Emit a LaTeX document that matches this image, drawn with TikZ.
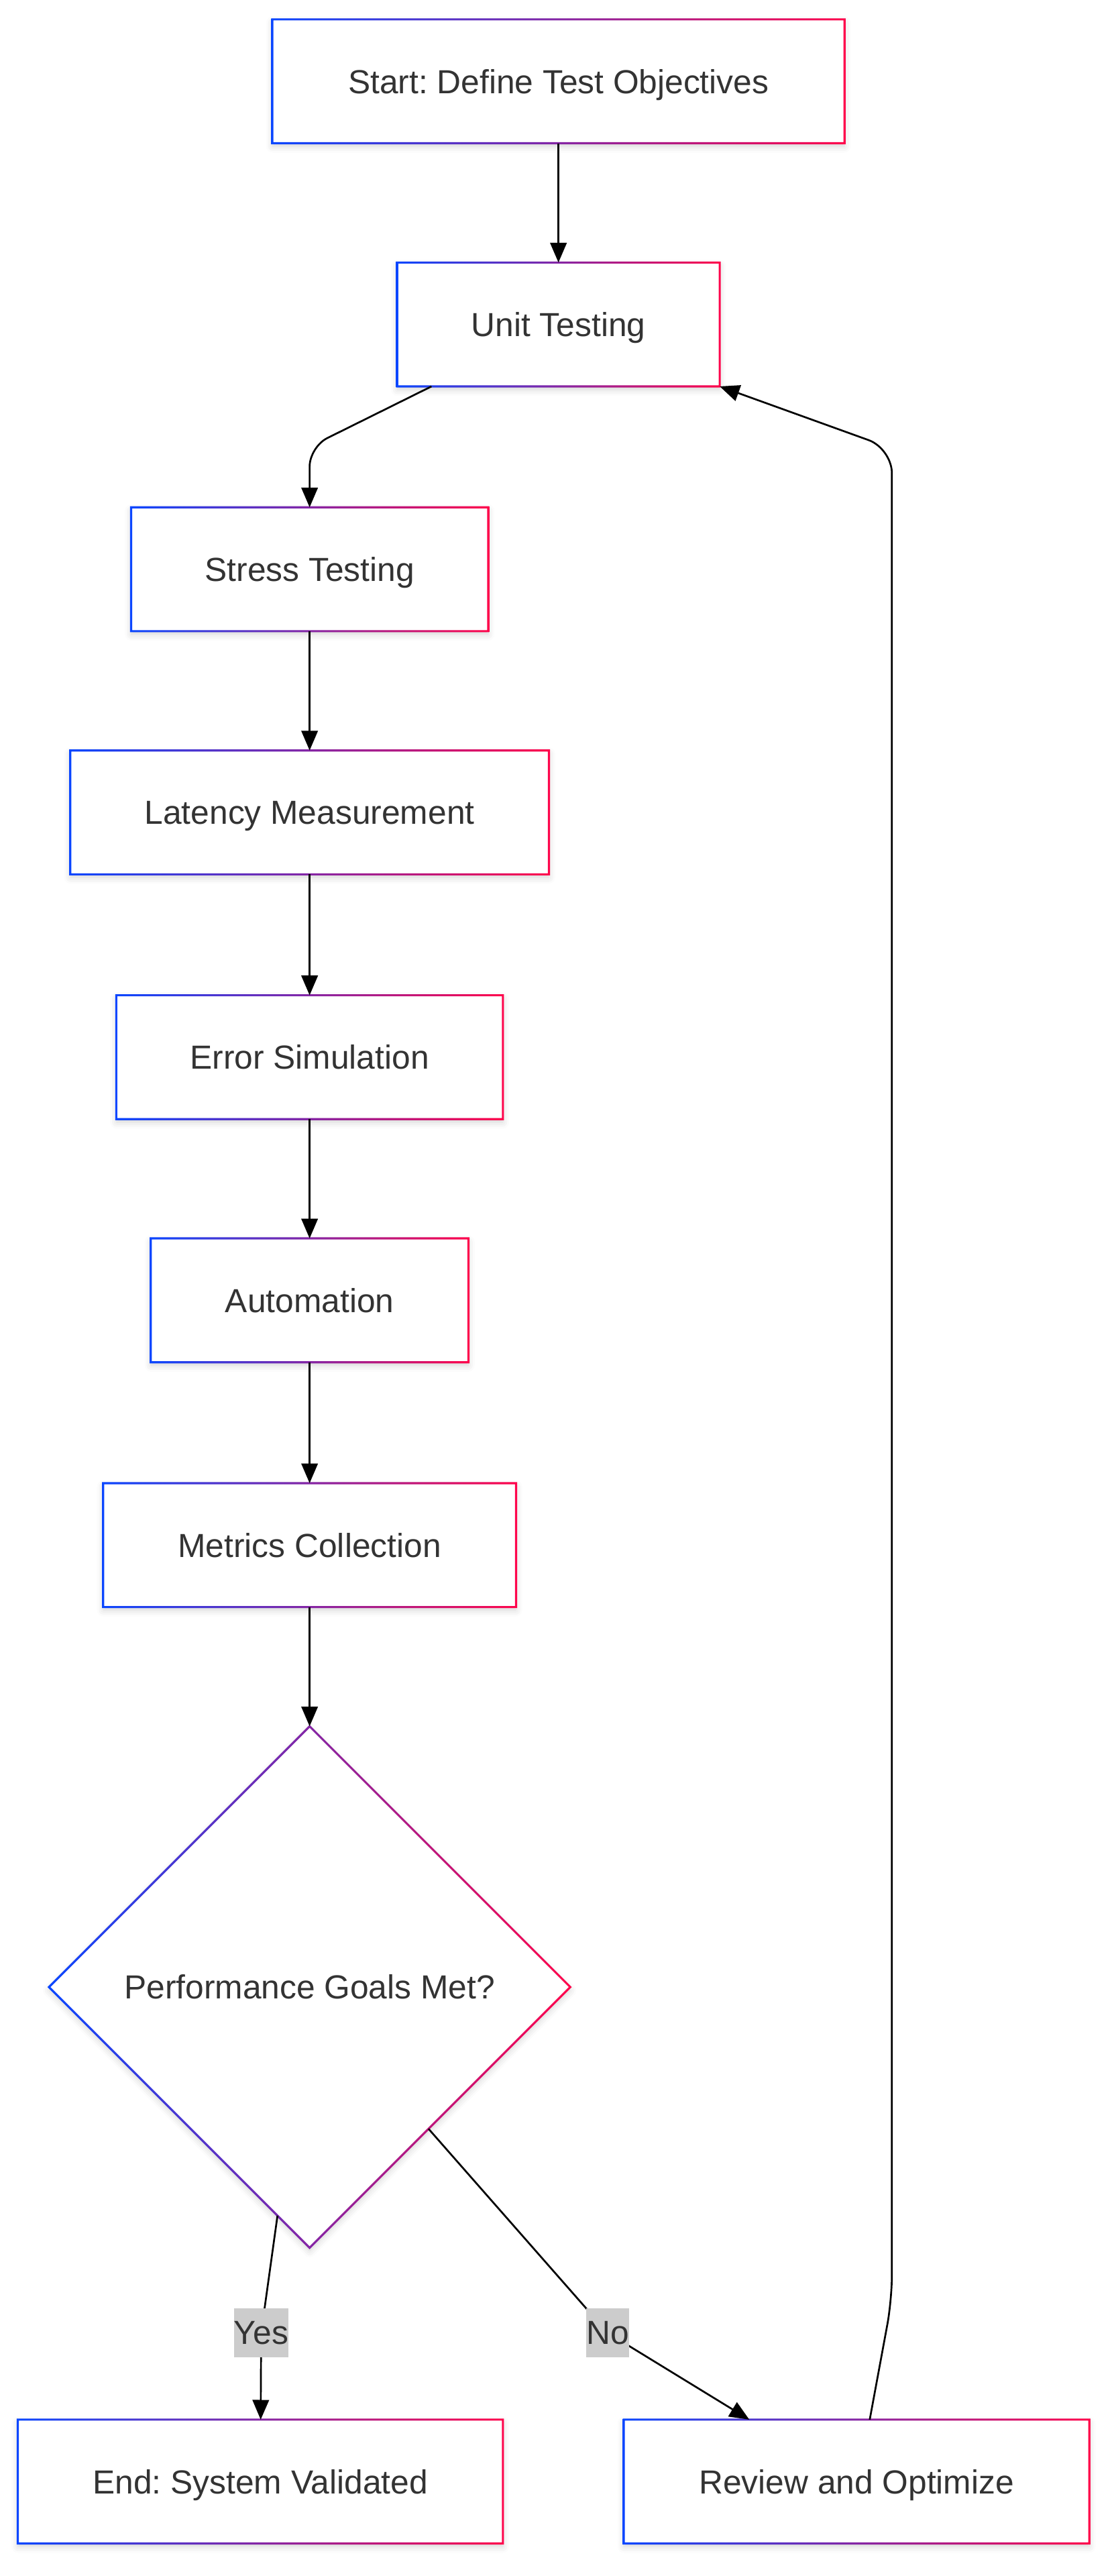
\documentclass[tikz,border=0pt]{standalone}
\usepackage{fontspec}
\setmainfont{Liberation Sans}
\usetikzlibrary{arrows.meta,shapes.geometric,shadows.blur,calc}
\frenchspacing

\definecolor{edgeblue}{RGB}{10,70,255}
\definecolor{edgemid}{RGB}{120,35,165}
\definecolor{edgered}{RGB}{255,5,75}
\definecolor{labelgray}{RGB}{204,204,204}
\definecolor{textgray}{RGB}{51,51,51}

% gradient frame round a box node
\newcommand{\gradframe}[1]{%
  \shade[left color=edgeblue, middle color=edgemid, right color=edgered, even odd rule]
    ($(#1.south west)+(-0.65,0.65)$) rectangle ($(#1.north east)+(0.65,-0.65)$)
    ($(#1.south west)+(0.65,-0.65)$) rectangle ($(#1.north east)+(-0.65,0.65)$);}

\begin{document}
\begin{tikzpicture}[x=1pt, y=-1pt,
    stepbox/.style={rectangle, fill=white, minimum height=75pt, inner sep=0pt,
      text=textgray, font=\fontsize{20.3}{24}\selectfont, text height=14.6pt, text depth=0pt,
      blur shadow={shadow xshift=0pt, shadow yshift=-2pt, shadow blur radius=4pt, shadow opacity=18}},
    choice/.style={diamond, fill=white, minimum width=317pt, minimum height=317pt, inner sep=0pt,
      text=textgray, font=\fontsize{20.3}{24}\selectfont, text height=14.6pt, text depth=0pt,
      blur shadow={shadow xshift=0pt, shadow yshift=-2pt, shadow blur radius=4pt, shadow opacity=18}},
    flowline/.style={draw=black, line width=1.1pt, -{Triangle[length=12pt,width=10pt]}},
    edgelabel/.style={fill=labelgray, text=textgray, inner xsep=0pt, inner ysep=0pt,
      minimum height=30pt, font=\fontsize{20.3}{24}\selectfont}]
    \useasboundingbox (0,0) rectangle (678,1568);

    % Main chain of steps
    \node[stepbox, minimum width=348pt] (start) at (340,49.5) {Start: Define Test Objectives};
    \node[stepbox, minimum width=196pt] (unit) at (340,197.5) {Unit Testing};
    \node[stepbox, minimum width=217pt] (stress) at (188.5,346.5) {Stress Testing};
    \node[stepbox, minimum width=291pt] (latency) at (188.5,494.5) {Latency Measurement};
    \node[stepbox, minimum width=235pt] (error) at (188.5,643.5) {Error Simulation};
    \node[stepbox, minimum width=193pt] (auto) at (188.5,791.5) {Automation};
    \node[stepbox, minimum width=251pt] (metrics) at (188.5,940.5) {Metrics Collection};

    % Decision and outcomes
    \node[choice] (decision) at (188.5,1209.5) {Performance Goals Met?};
    \node[stepbox, minimum width=295pt] (done) at (158.5,1510.5) {End: System Validated};
    \node[stepbox, minimum width=283pt] (review) at (521.5,1510.5) {Review and Optimize};

    % Gradient borders
    \foreach \n in {start,unit,stress,latency,error,auto,metrics,done,review}
      \gradframe{\n};
    \shade[left color=edgeblue, middle color=edgemid, right color=edgered, even odd rule]
      ($(decision.north)+(0,-0.9)$) -- ($(decision.east)+(0.9,0)$) -- ($(decision.south)+(0,0.9)$) -- ($(decision.west)+(-0.9,0)$) -- cycle
      ($(decision.north)+(0,0.9)$) -- ($(decision.east)+(-0.9,0)$) -- ($(decision.south)+(0,-0.9)$) -- ($(decision.west)+(0.9,0)$) -- cycle;

    % Connectors
    \draw[flowline] (start) -- (unit);
    \draw[flowline, rounded corners=12pt] (unit.206) -- (188.5,272) -- (stress);
    \foreach \a/\b in {stress/latency, latency/error, error/auto, auto/metrics, metrics/decision}
      \draw[flowline] (\a) -- (\b);
    \draw[flowline] (decision.262) -- (159,1420) node[edgelabel] {Yes} -- (done);
    \draw[flowline] (decision.310) -- (370,1420) node[edgelabel] {No} -- (review.150);

    % Loop back for another pass
    \draw[flowline, rounded corners=15pt] (review.78) -- (543,1400) -- (543,273) -- (unit.south east);
\end{tikzpicture}
\end{document}
